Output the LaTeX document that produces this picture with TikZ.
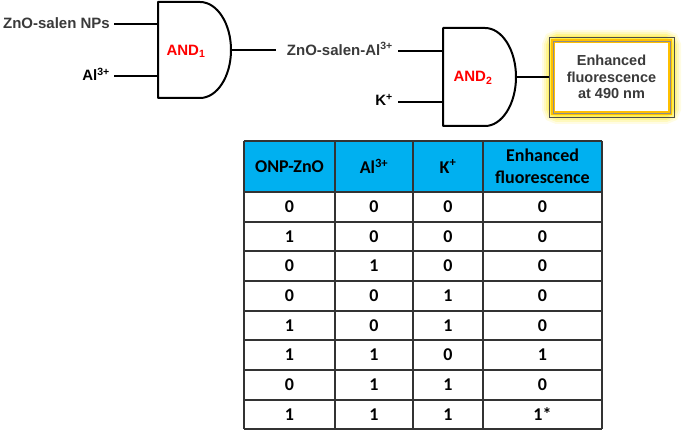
\documentclass[tikz,border=0pt]{standalone}
\usepackage{fontspec}
\setmainfont{Liberation Sans}
\newfontfamily\tabfont{Carlito}
\begin{document}
\begin{tikzpicture}[x=1pt,y=-1pt,
  gate/.style={draw=black,line width=2pt,fill=white,line join=round},
  wire/.style={draw=black,line width=2pt},
  lbl/.style={font=\fontsize{15}{17}\selectfont\bfseries,inner sep=0pt},
  gname/.style={font=\fontsize{15}{17}\selectfont\bfseries,text=red},
  tline/.style={draw=black!80,line width=1.2pt},
  cell/.style={font=\tabfont\fontsize{18}{22}\selectfont\bfseries,align=center,inner sep=0pt}
]
\definecolor{hdr}{HTML}{00B0F0}
\definecolor{gold}{HTML}{FFC000}
\definecolor{glow}{HTML}{FFEE40}
\definecolor{dgray}{HTML}{3A3A3A}
\useasboundingbox (0,0) rectangle (685,435);
% gate 1
\draw[gate] (158,2) -- (200,2) .. controls (217.1,2) and (231,23.5) .. (231,50)
  .. controls (231,76.5) and (217.1,98) .. (200,98) -- (158,98) -- cycle;
\node[gname] (and1) at (186,51) {AND\textsubscript{1}};
\coordinate (g1a) at (158,24);
\coordinate (g1b) at (158,76);
\coordinate (g1o) at (231,50);
% gate 2
\draw[gate] (443,28) -- (485,28) .. controls (502.1,28) and (516,50) .. (516,77)
  .. controls (516,104) and (502.1,126) .. (485,126) -- (443,126) -- cycle;
\node[gname] (and2) at (473,78) {AND\textsubscript{2}};
\coordinate (g2a) at (443,51);
\coordinate (g2b) at (443,102);
\coordinate (g2o) at (516,77);
% labels
\node[lbl,text=dgray,anchor=east] (in1) at (110,23) {ZnO-salen NPs};
\node[lbl,anchor=east] (in2) at (110,74) {Al\textsuperscript{3+}};
\node[lbl,text=dgray,anchor=east] (mid) at (393,49) {ZnO-salen-Al\textsuperscript{3+}};
\node[lbl,anchor=east] (in3) at (393,100) {K\textsuperscript{+}};
\draw[wire] ([xshift=4pt]in1.east|-g1a) -- (g1a);
\draw[wire] ([xshift=4pt]in2.east|-g1b) -- (g1b);
\draw[wire] ([xshift=5pt]in3.east|-g2b) -- (g2b);
\draw[wire] ([xshift=5pt]mid.east|-g2a) -- (g2a);
\draw[wire] (g1o) -- ([xshift=-11pt]mid.west|-g1o);
% output box
\foreach \w/\o in {22/0.15,18/0.22,14/0.35,10/0.55,7/0.8}{
  \draw[glow,line width=\w pt,opacity=\o,rounded corners=5pt] (553,41) rectangle (670,113);}
\node[draw=gold,line width=4pt,fill=white,minimum width=117pt,minimum height=72pt,inner sep=0pt] (out) at (611.5,77) {};
\draw[black!70,line width=0.8pt] ([shift={(-2,2)}]out.south west) rectangle ([shift={(2,-2)}]out.north east);
\draw[black!45,line width=0.5pt] ([shift={(2,-2)}]out.south west) rectangle ([shift={(-2,2)}]out.north east);
\node[font=\fontsize{14.5}{16.5}\selectfont\bfseries,text=dgray,align=center] (outtxt) at (out.center) {Enhanced\\fluorescence\\at 490 nm};
\draw[wire] (g2o) -- ([xshift=-2pt]out.west);
% table
\fill[hdr] (244,141) rectangle (602,192);
\foreach \y in {141,192,222,251,281,311,340,370,400,429}{\draw[tline] (244,\y) -- (602,\y);}
\foreach \x in {244,335,413,483,602}{\draw[tline] (\x,141) -- (\x,429);}
\node[cell] (h1) at (289.5,166.5) {ONP-ZnO};
\node[cell] (h2) at (374,166.5) {Al\textsuperscript{3+}};
\node[cell] (h3) at (448,166.5) {K\textsuperscript{+}};
\node[cell] (h4) at (542.5,166.5) {Enhanced\\fluorescence};
\foreach \yc/\a/\b/\c/\d [count=\i] in {207/0/0/0/0,236.5/1/0/0/0,266/0/1/0/0,296/0/0/1/0,325.5/1/0/1/0,355/1/1/0/1,385/0/1/1/0,414.5/1/1/1/1*}{
  \node[cell] (r\i a) at (289.5,\yc) {\a};
  \node[cell] (r\i b) at (374,\yc) {\b};
  \node[cell] (r\i c) at (448,\yc) {\c};
  \node[cell] (r\i d) at (542.5,\yc) {\d};
}
\end{tikzpicture}
\end{document}
